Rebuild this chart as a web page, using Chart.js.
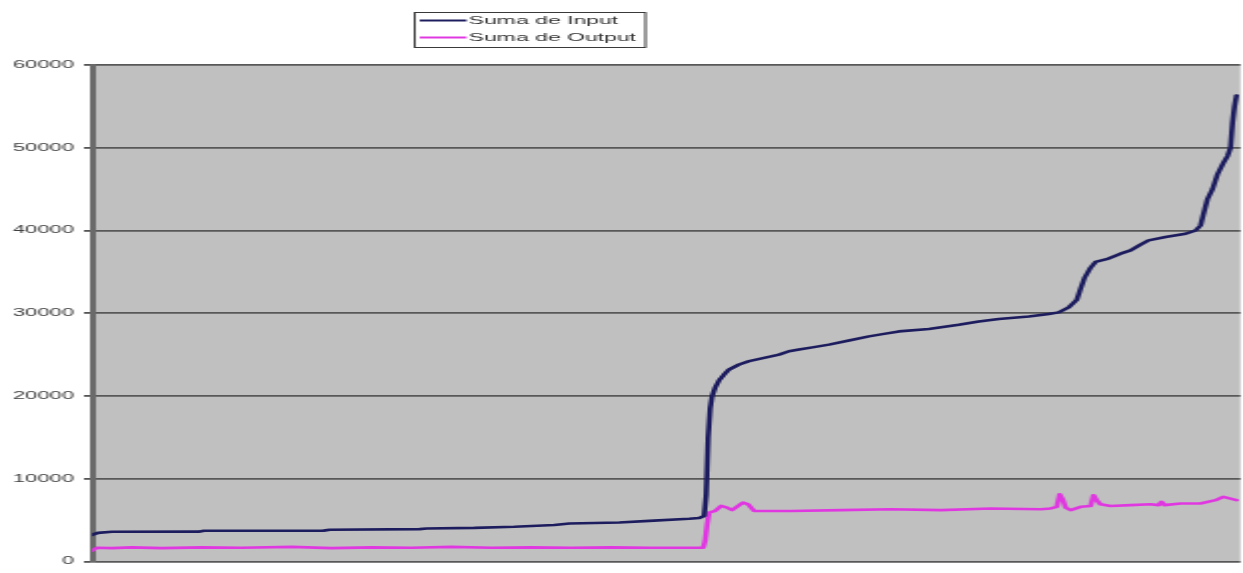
<!DOCTYPE html>
<html>
<head>
<meta charset="utf-8">
<script src="https://cdn.jsdelivr.net/npm/chart.js@4.4.1/dist/chart.umd.min.js"></script>
<style>
  html, body { margin: 0; padding: 0; background: #fff; overflow: hidden; }
  /* the source picture is an Excel chart stretched sideways, so draw narrow and widen it */
  #wrap { width: 622px; height: 573px; transform: scaleX(1.99839); transform-origin: 0 0; }
</style>
</head>
<body>
<div id="wrap"><canvas id="chart"></canvas></div>
<script>
// Data (x = record number along the axis)
const inputRec = [0, 6, 20, 108, 112, 232, 238, 328, 335, 383, 423, 463, 478, 528, 558, 598, 608, 613, 615, 617, 619, 621, 624, 628, 633, 638, 648, 658, 673, 688, 698, 708, 723, 738, 758, 778, 793, 808, 838, 868, 888, 908, 938, 958, 968, 978, 986, 990, 994, 1000, 1005, 1018, 1030, 1040, 1050, 1058, 1075, 1095, 1105, 1110, 1113, 1117, 1122, 1127, 1133, 1137, 1140, 1142, 1144, 1146];
const inputVal = [3200, 3450, 3580, 3600, 3700, 3720, 3820, 3900, 3970, 4050, 4180, 4400, 4580, 4700, 4900, 5150, 5250, 5500, 8000, 15000, 18500, 20000, 21000, 21900, 22600, 23200, 23800, 24200, 24600, 25000, 25400, 25600, 25900, 26200, 26700, 27200, 27500, 27800, 28100, 28600, 29000, 29300, 29600, 29900, 30100, 30700, 31600, 33000, 34300, 35500, 36200, 36600, 37200, 37600, 38300, 38800, 39200, 39600, 40000, 40600, 42000, 43800, 45000, 46800, 48200, 49000, 50000, 53000, 55000, 56300];

const outputRec = [0, 5, 20, 40, 70, 110, 150, 200, 240, 280, 320, 360, 400, 440, 480, 520, 560, 600, 612, 614, 616, 618, 624, 630, 636, 641, 648, 652, 657, 663, 700, 750, 800, 850, 900, 950, 960, 966, 969, 972, 975, 980, 990, 1000, 1003, 1006, 1010, 1020, 1040, 1060, 1068, 1071, 1074, 1090, 1110, 1125, 1133, 1146];
const outputVal = [1300, 1650, 1600, 1700, 1600, 1700, 1650, 1750, 1600, 1700, 1650, 1750, 1650, 1700, 1650, 1700, 1650, 1650, 1650, 2500, 4500, 5900, 6100, 6700, 6500, 6200, 6800, 7100, 6900, 6100, 6100, 6200, 6300, 6200, 6400, 6300, 6400, 6600, 8100, 7500, 6500, 6200, 6600, 6700, 8000, 7400, 6900, 6700, 6800, 6900, 6800, 7200, 6800, 7000, 7000, 7400, 7800, 7400];

const seriesNames = ['Suma de Input', 'Suma de Output'];
const seriesColors = ['#1c1c5e', '#e038e0'];
const yTicks = [0, 10000, 20000, 30000, 40000, 50000, 60000];

const toPoints = (xs, ys) => xs.map((x, i) => ({ x: x, y: ys[i] }));

// grey plot wall
const plotBg = {
  id: 'plotBg',
  beforeDraw(chart) {
    const a = chart.chartArea, ctx = chart.ctx;
    ctx.save();
    ctx.fillStyle = '#c0c0c0';
    ctx.fillRect(a.left, a.top, a.right - a.left, a.bottom - a.top);
    ctx.restore();
  }
};

// boxed legend like the Excel one
const boxLegend = {
  id: 'boxLegend',
  afterDraw(chart) {
    const ctx = chart.ctx;
    const x0 = 207, y0 = 12, w = 115.5, h = 35;
    ctx.save();
    ctx.fillStyle = '#ffffff';
    ctx.fillRect(x0, y0, w, h);
    ctx.strokeStyle = '#3a3a3a';
    ctx.lineWidth = 1;
    ctx.strokeRect(x0 + 0.5, y0 + 0.5, w, h);
    ctx.font = '11.5px "Liberation Sans", Arial, sans-serif';
    ctx.textBaseline = 'middle';
    chart.data.datasets.forEach((ds, i) => {
      const y = y0 + 8.5 + i * 17;
      ctx.strokeStyle = ds.borderColor;
      ctx.lineWidth = 2;
      ctx.beginPath(); ctx.moveTo(210, y); ctx.lineTo(233.5, y); ctx.stroke();
      ctx.fillStyle = '#333333';
      ctx.fillText(ds.label, 234.5, y + 0.5);
    });
    ctx.restore();
  }
};

new Chart(document.getElementById('chart'), {
  type: 'line',
  data: {
    datasets: [
      { label: seriesNames[0], data: toPoints(inputRec, inputVal), borderColor: seriesColors[0], borderWidth: 2.6 },
      { label: seriesNames[1], data: toPoints(outputRec, outputVal), borderColor: seriesColors[1], borderWidth: 2.6 }
    ]
  },
  options: {
    responsive: true,
    maintainAspectRatio: false,
    animation: false,
    layout: { padding: { top: 65, bottom: 7, left: 0, right: 1 } },
    elements: {
      point: { radius: 0 },
      line: { tension: 0, borderJoinStyle: 'round', borderCapStyle: 'round' }
    },
    plugins: { legend: { display: false }, tooltip: { enabled: false } },
    scales: {
      x: { type: 'linear', min: 0, max: 1150, display: false },
      y: {
        min: 0, max: 60000,
        afterBuildTicks: (s) => { s.ticks = yTicks.map(v => ({ value: v })); },
        afterFit: (s) => { s.width = 46; },
        border: { display: true, color: '#6a6a6a', width: 3 },
        grid: { color: '#585858', lineWidth: 1.8, tickLength: 4, tickColor: '#555' },
        ticks: {
          padding: 5,
          color: '#404040',
          font: { family: '"Liberation Sans", Arial, sans-serif', size: 11 },
          callback: (v) => String(v)
        }
      }
    }
  },
  plugins: [plotBg, boxLegend]
});
</script>
</body>
</html>
